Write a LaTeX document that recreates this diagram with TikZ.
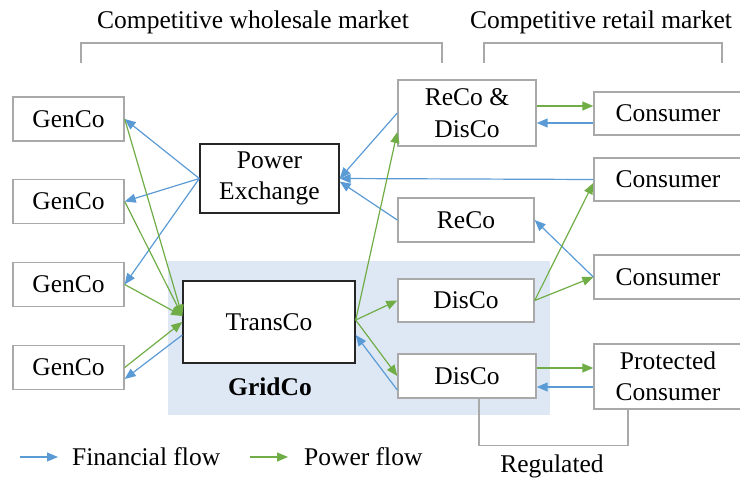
\documentclass[tikz,border=0pt]{standalone}
\usepackage{fontspec}
\setmainfont{Liberation Serif}
\usetikzlibrary{arrows.meta}
\definecolor{finblue}{HTML}{5B9BD5}
\definecolor{powgreen}{HTML}{70AD47}
\definecolor{boxgray}{HTML}{A9A9A9}
\definecolor{gridbg}{HTML}{DEE8F4}

\begin{document}
\begin{tikzpicture}[x=1pt,y=-1pt,
    every node/.style={font=\fontsize{25.5}{31.5}\selectfont, align=center},
    agent/.style={draw=boxgray, line width=1.4pt, fill=white, minimum width=111pt, minimum height=44pt},
    hub/.style={draw=black!85, line width=1.4pt, fill=white},
    fin/.style={draw=finblue, line width=1.2pt, -{Triangle[length=11pt,width=9pt]}},
    pow/.style={draw=powgreen, line width=1.2pt, -{Triangle[length=11pt,width=9pt]}},
    bracket/.style={draw=boxgray, line width=1.4pt}]
            \tikzstyle{every node}+=[inner sep=0pt]
            \useasboundingbox (0,0) rectangle (740,480);
            \fill [gridbg] (168,261) rectangle (550,415);
            % market brackets
            \node (wholesale) at (253,22) {Competitive wholesale market};
            \node (retail) at (601,22) {Competitive retail market};
            \draw [bracket] (81,63) -- (81,43) -- (442,43) -- (442,63);
            \draw [bracket] (484,63) -- (484,43) -- (722,43) -- (722,63);
            % generators
            \node [agent] (gen1) at (68.5,119) {GenCo};
            \node [agent] (gen2) at (68.5,201.5) {GenCo};
            \node [agent] (gen3) at (68.5,284.5) {GenCo};
            \node [agent] (gen4) at (68.5,367.5) {GenCo};
            % exchange and grid
            \node [hub, minimum width=139pt, minimum height=69pt] (pe) at (269.5,178.5) {Power\\Exchange};
            \node [hub, minimum width=172pt, minimum height=82pt] (tc) at (269,322) {TransCo};
            \node [font=\fontsize{25.5}{31.5}\selectfont\bfseries] (grid) at (270,387) {GridCo};
            % retailers and distributors
            \node [agent, minimum width=138pt, minimum height=66pt] (rd) at (467,113) {ReCo \&\\DisCo};
            \node [agent, minimum width=136pt] (reco) at (466,220) {ReCo};
            \node [agent, minimum width=136pt, minimum height=43pt] (dis1) at (466,300.5) {DisCo};
            \node [agent, minimum width=138pt] (dis2) at (467,376) {DisCo};
            % consumers
            \node [agent, minimum width=148pt, minimum height=43pt] (con1) at (668,113.5) {Consumer};
            \node [agent, minimum width=148pt, minimum height=43pt] (con2) at (668,179.5) {Consumer};
            \node [agent, minimum width=148pt] (con3) at (668,277) {Consumer};
            \node [agent, minimum width=148pt, minimum height=65pt] (prot) at (668,376.5) {Protected\\Consumer};
            % regulated bracket
            \draw [bracket] ([xshift=12pt]dis2.south) -- ++(0,47) -| ([xshift=-40pt]prot.south);
            \node (reg) at (552,466) {Regulated};
            % financial flows
            \draw [fin] (pe.west) -- (gen1.east);
            \draw [fin] (pe.west) -- (gen2.east);
            \draw [fin] (pe.west) -- (gen3.east);
            \draw [fin] ([yshift=-13pt]tc.west) -- ([yshift=-11.5pt]gen4.east);
            \draw [fin] (rd.west) -- (pe.east);
            \draw [fin] (con2.west) -- (pe.east);
            \draw [fin] (reco.west) -- ([yshift=-3pt]pe.east);
            \draw [fin] ([yshift=-14pt]dis2.west) -- ([yshift=-13pt]tc.east);
            \draw [fin] ([yshift=-9.5pt]con1.west) -- ([yshift=-10pt]rd.east);
            \draw [fin] (con3.west) -- (reco.east);
            \draw [fin] ([yshift=-10.5pt]prot.west) -- ([yshift=-11pt]dis2.east);
            % power flows
            \draw [pow] (gen1.east) -- ([yshift=6pt]tc.west);
            \draw [pow] (gen2.east) -- ([yshift=6pt]tc.west);
            \draw [pow] (gen3.east) -- ([yshift=6pt]tc.west);
            \draw [pow] (gen4.east) -- (tc.west);
            \draw [pow] ([yshift=2pt]tc.east) -- ([yshift=-19pt]rd.west);
            \draw [pow] ([yshift=2pt]tc.east) -- (dis1.west);
            \draw [pow] ([yshift=2pt]tc.east) -- (dis2.west);
            \draw [pow] ([yshift=7pt]rd.east) -- ([yshift=7.5pt]con1.west);
            \draw [pow] (dis1.east) -- ([yshift=-3.5pt]con2.west);
            \draw [pow] (dis1.east) -- (con3.west);
            \draw [pow] ([yshift=8pt]dis2.east) -- ([yshift=8.5pt]prot.west);
            % legend
            \coordinate (finA) at (20,457);
            \coordinate (finB) at (58,457);
            \coordinate (powA) at (250,457);
            \coordinate (powB) at (288,457);
            \draw [fin] (finA) -- (finB);
            \draw [pow] (powA) -- (powB);
            \node [anchor=west] (finlbl) at (72,457) {Financial flow};
            \node [anchor=west] (powlbl) at (304,457) {Power flow};
        \end{tikzpicture}
\end{document}
